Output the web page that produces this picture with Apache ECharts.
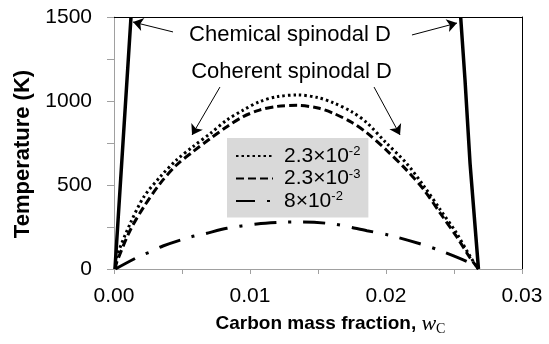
<!DOCTYPE html>
<html>
<head>
<meta charset="utf-8">
<script src="https://cdn.jsdelivr.net/npm/echarts@6/dist/echarts.min.js"></script>
<style>
  html, body { margin: 0; padding: 0; background: #fff; }
  #chart { width: 549px; height: 344px; }
</style>
</head>
<body>
<div id="chart"></div>
<script>
// chemical spinodal (two solid branches)
var chemLeftX = [0.00007, 0.00066, 0.00125];
var chemLeftT = [0, 750, 1500];
var chemRightX = [0.02680, 0.02618, 0.02581, 0.02549];
var chemRightT = [0, 629, 1125, 1500];

// coherent spinodal, 2.3x10^-2 (dotted)
var dotX = [0.0001, 0.0002, 0.0012, 0.0022, 0.0034, 0.0046, 0.0058, 0.0071, 0.0083, 0.0095, 0.0107, 0.0120, 0.0135, 0.0150, 0.0161, 0.0175, 0.0186, 0.0200, 0.0215, 0.0228, 0.0240, 0.0252, 0.0262, 0.0268];
var dotT = [0, 73, 272, 430, 549, 649, 728, 808, 887, 946, 996, 1026, 1036, 1020, 990, 935, 870, 752, 630, 492, 352, 212, 73, 0];

// coherent spinodal, 2.3x10^-3 (dashed)
var dashX = [0.0001, 0.0002, 0.0012, 0.0022, 0.0034, 0.0046, 0.0058, 0.0071, 0.0083, 0.0095, 0.0107, 0.0120, 0.0135, 0.0150, 0.0161, 0.0175, 0.0186, 0.0200, 0.0215, 0.0228, 0.0240, 0.0252, 0.0262, 0.0268];
var dashT = [0, 40, 232, 371, 510, 619, 698, 778, 847, 907, 946, 968, 974, 958, 928, 872, 810, 710, 590, 470, 331, 192, 64, 0];

// coherent spinodal, 8x10^-2 (dash-dot)
var ddX = [0.0001, 0.0019, 0.0027, 0.0036, 0.0056, 0.0066, 0.0083, 0.0105, 0.0122, 0.0137, 0.0161, 0.0186, 0.0203, 0.0225, 0.0242, 0.0264, 0.0268];
var ddT = [0, 77, 103, 137, 190, 208, 242, 268, 278, 280, 268, 228, 200, 150, 103, 28, 0];

var legendNames = ['2.3×10^-2', '2.3×10^-3', '8×10^-2'];
var legendText = {
    '2.3×10^-2': '{b|2.3×10}{s|-2}',
    '2.3×10^-3': '{b|2.3×10}{s|-3}',
    '8×10^-2': '{b|8×10}{s|-2}'
};

function pairs(xs, ys) {
    return xs.map(function (x, i) { return [x, ys[i]]; });
}

var chart = echarts.init(document.getElementById('chart'), null, { renderer: 'canvas' });

var FONT = 'Liberation Sans, Arial, sans-serif';
var AXIS_GRAY = '#a0a0a0';

var option = {
    animation: false,
    backgroundColor: '#fff',
    textStyle: { fontFamily: FONT, color: '#000' },
    grid: { left: 114, right: 27, top: 17, bottom: 75, containLabel: false, outerBoundsMode: 'none' },
    legend: {
        data: [
            { name: legendNames[0] },
            { name: legendNames[1] },
            { name: legendNames[2], lineStyle: { type: [19, 12, 3, 12] } }
        ],
        orient: 'vertical',
        left: 227,
        top: 138,
        backgroundColor: '#d9d9d9',
        padding: [7, 8, 6, 8],
        itemWidth: 37,
        itemHeight: 14,
        itemGap: 1,
        selectedMode: false,
        itemStyle: { opacity: 0 },
        formatter: function (name) { return legendText[name]; },
        textStyle: {
            padding: [0, 0, 0, 6],
            rich: {
                b: { fontSize: 21, lineHeight: 22, color: '#000', fontFamily: FONT },
                s: { fontSize: 13, lineHeight: 14, color: '#000', fontFamily: FONT, verticalAlign: 'top' }
            }
        }
    },
    xAxis: [{
        type: 'value',
        min: 0,
        max: 0.03,
        interval: 0.005,
        name: '{b|Carbon mass fraction, }{w|w}{c|C}',
        nameLocation: 'middle',
        nameGap: 43,
        nameTextStyle: {
            padding: [0, 0, 0, 25],
            rich: {
                b: { fontSize: 19, fontWeight: 'bold', fontFamily: FONT, color: '#000', lineHeight: 24 },
                w: { fontSize: 22, fontStyle: 'italic', fontFamily: 'Liberation Serif, serif', color: '#000', lineHeight: 24 },
                c: { fontSize: 14, fontFamily: 'Liberation Serif, serif', color: '#000', lineHeight: 24, verticalAlign: 'bottom' }
            }
        },
        splitLine: { show: false },
        axisLine: { lineStyle: { color: AXIS_GRAY, width: 1 } },
        axisTick: { length: 5, lineStyle: { color: AXIS_GRAY } },
        axisLabel: {
            fontSize: 21,
            color: '#000',
            margin: 17,
            formatter: function (v) {
                var k = v * 100;
                return Math.abs(k - Math.round(k)) < 1e-6 ? v.toFixed(2) : '';
            }
        }
    }, {
        type: 'value',
        position: 'top',
        min: 0,
        max: 0.03,
        axisLine: { onZero: false, lineStyle: { color: '#000', width: 1 } },
        axisTick: { show: false },
        axisLabel: { show: false },
        splitLine: { show: false }
    }],
    yAxis: [{
        type: 'value',
        min: 0,
        max: 1500,
        interval: 250,
        name: 'Temperature (K)',
        nameLocation: 'middle',
        nameGap: 77,
        nameTextStyle: { fontSize: 22, fontWeight: 'bold', color: '#000', padding: [0, 22, 0, 0] },
        splitLine: { show: false },
        axisLine: { show: true, lineStyle: { color: AXIS_GRAY, width: 1 } },
        axisTick: { show: true, length: 7, lineStyle: { color: AXIS_GRAY } },
        axisLabel: {
            fontSize: 21,
            color: '#000',
            margin: 22,
            formatter: function (v) { return v % 500 === 0 ? String(v) : ''; }
        }
    }, {
        type: 'value',
        position: 'right',
        min: 0,
        max: 1500,
        axisLine: { show: true, onZero: false, lineStyle: { color: '#000', width: 1 } },
        axisTick: { show: false },
        axisLabel: { show: false },
        splitLine: { show: false }
    }],
    series: [
        {
            name: 'chemL',
            type: 'line',
            symbol: 'none',
            data: pairs(chemLeftX, chemLeftT),
            lineStyle: { color: '#000', width: 3.5 },
            markLine: {
                silent: true,
                symbol: ['none', 'arrow'],
                symbolSize: 10,
                label: { show: false },
                lineStyle: { color: '#000', width: 1, type: 'solid' },
                data: [
                    [{ coord: [0.00434, 1411] }, { coord: [0.00140, 1470] }],
                    [{ coord: [0.02191, 1393] }, { coord: [0.02522, 1464] }],
                    [{ coord: [0.00779, 1083] }, { coord: [0.00574, 798] }],
                    [{ coord: [0.01912, 1083] }, { coord: [0.02103, 798] }]
                ]
            },
            markPoint: {
                silent: true,
                symbol: 'circle',
                symbolSize: 0,
                label: {
                    show: true,
                    position: 'inside',
                    fontSize: 22,
                    color: '#000',
                    fontFamily: FONT,
                    formatter: function (p) { return p.name; }
                },
                data: [
                    { name: 'Chemical spinodal D', coord: [0.01294, 1393] },
                    { name: 'Coherent spinodal D', coord: [0.01305, 1173] }
                ]
            }
        },
        {
            name: 'chemR',
            type: 'line',
            symbol: 'none',
            data: pairs(chemRightX, chemRightT),
            lineStyle: { color: '#000', width: 3.5 }
        },
        {
            name: '2.3×10^-2',
            type: 'line',
            symbol: 'none',
            smooth: 0.3,
            data: pairs(dotX, dotT),
            itemStyle: { color: '#000' },
            lineStyle: { color: '#000', width: 3, type: [2.5, 3] }
        },
        {
            name: '2.3×10^-3',
            type: 'line',
            symbol: 'none',
            smooth: 0.3,
            data: pairs(dashX, dashT),
            itemStyle: { color: '#000' },
            lineStyle: { color: '#000', width: 3, type: [8, 4] }
        },
        {
            name: '8×10^-2',
            type: 'line',
            symbol: 'none',
            smooth: 0.3,
            data: pairs(ddX, ddT),
            itemStyle: { color: '#000' },
            lineStyle: { color: '#000', width: 3, type: [22, 12, 3, 12] }
        }
    ]
};

chart.setOption(option);
</script>
</body>
</html>
